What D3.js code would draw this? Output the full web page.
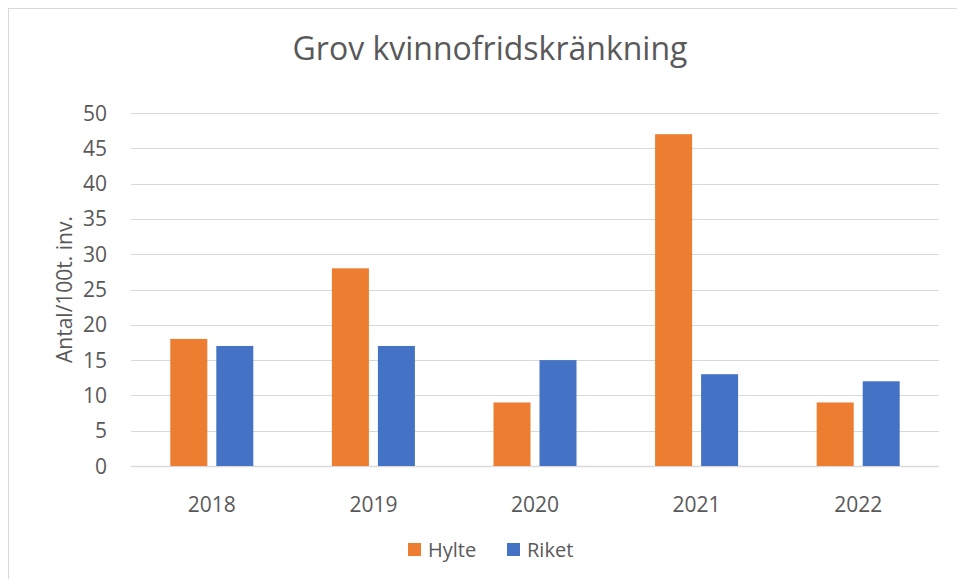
<!DOCTYPE html>
<html>
<head>
<meta charset="utf-8">
<script src="https://cdn.jsdelivr.net/npm/d3@7"></script>
<style>
  body { margin: 0; background: #fff; }
  text { font-family: "Open Sans", "Liberation Sans", sans-serif; fill: #595959; }
</style>
</head>
<body>
<script>
var years = ["2018", "2019", "2020", "2021", "2022"];
var seriesNames = ["Hylte", "Riket"];
var hylte = [18, 28, 9, 47, 9];
var riket = [17, 17, 15, 13, 12];
var yTicks = [0, 5, 10, 15, 20, 25, 30, 35, 40, 45, 50];
var colors = ["#ED7D31", "#4472C4"];

var width = 957;
var height = 579;

var svg = d3.select("body")
            .append("svg")
            .attr("width", width)
            .attr("height", height);

// outer chart border
svg.append("rect")
   .attr("x", 8.5)
   .attr("y", 8.5)
   .attr("width", 960)
   .attr("height", 600)
   .attr("fill", "none")
   .attr("stroke", "#d9d9d9");

var plotLeft = 131, plotRight = 939, plotTop = 113, plotBottom = 466;

var x = d3.scaleBand().domain(years).range([plotLeft, plotRight]);
var y = d3.scaleLinear().domain([0, 50]).range([plotBottom, plotTop]);

// gridlines
svg.append("g")
   .selectAll("line")
   .data(yTicks)
   .enter()
   .append("line")
   .attr("x1", plotLeft)
   .attr("x2", plotRight)
   .attr("y1", function(d) { return Math.round(y(d)) + 0.5; })
   .attr("y2", function(d) { return Math.round(y(d)) + 0.5; })
   .attr("stroke", "#d9d9d9")
   .attr("stroke-width", function(d) { return d === 0 ? 1.5 : 1.2; });

// y tick labels
svg.append("g")
   .selectAll("text")
   .data(yTicks)
   .enter()
   .append("text")
   .attr("x", 107)
   .attr("y", function(d) { return y(d) + 7.5; })
   .attr("text-anchor", "end")
   .attr("font-size", "21px")
   .text(function(d) { return d; });

// x labels
svg.append("g")
   .selectAll("text")
   .data(years)
   .enter()
   .append("text")
   .attr("x", function(d) { return x(d) + x.bandwidth() / 2; })
   .attr("y", 512)
   .attr("text-anchor", "middle")
   .attr("font-size", "21px")
   .text(function(d) { return d; });

// bars
var barW = 37, gap = 9;
var series = [hylte, riket];
series.forEach(function(vals, si) {
  svg.append("g")
     .selectAll("rect")
     .data(vals)
     .enter()
     .append("rect")
     .attr("x", function(d, i) {
        var c = x(years[i]) + x.bandwidth() / 2;
        return c - (barW * 2 + gap) / 2 + si * (barW + gap);
     })
     .attr("y", function(d) { return y(d); })
     .attr("width", barW)
     .attr("height", function(d) { return plotBottom - y(d); })
     .attr("fill", colors[si]);
});

// title
svg.append("text")
   .attr("x", 490)
   .attr("y", 60)
   .attr("text-anchor", "middle")
   .attr("font-size", "32px")
   .text("Grov kvinnofridskränkning");

// y axis title
svg.append("text")
   .attr("transform", "translate(72," + ((plotTop + plotBottom) / 2) + ") rotate(-90)")
   .attr("text-anchor", "middle")
   .attr("font-size", "21px")
   .text("Antal/100t. inv.");

// legend
var legX = [408, 507];
seriesNames.forEach(function(name, i) {
  svg.append("rect")
     .attr("x", legX[i])
     .attr("y", 543)
     .attr("width", 13)
     .attr("height", 13)
     .attr("fill", colors[i]);
  svg.append("text")
     .attr("x", legX[i] + 20)
     .attr("y", 557)
     .attr("font-size", "20px")
     .text(name);
});
</script>
</body>
</html>
